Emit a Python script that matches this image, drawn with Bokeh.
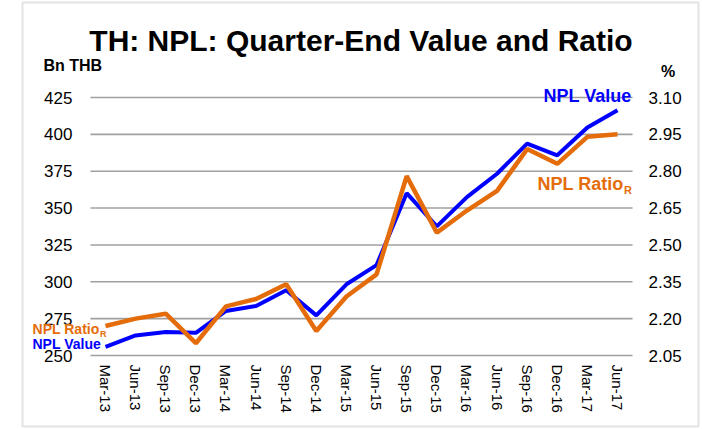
from bokeh.plotting import figure
from bokeh.models import (Range1d, LinearAxis, FixedTicker, Label, BoxAnnotation,
                          NumeralTickFormatter)
from bokeh.embed import file_html
from bokeh.resources import INLINE

quarters = ["Mar-13", "Jun-13", "Sep-13", "Dec-13", "Mar-14", "Jun-14", "Sep-14", "Dec-14",
            "Mar-15", "Jun-15", "Sep-15", "Dec-15", "Mar-16", "Jun-16", "Sep-16", "Dec-16",
            "Mar-17", "Jun-17"]
npl_value = [255.9, 263.6, 266.0, 265.4, 280.2, 283.6, 294.3, 277.2, 298.3, 311.3,
             360.1, 337.6, 357.4, 373.3, 393.7, 385.8, 404.6, 416.4]
npl_ratio = [2.17, 2.20, 2.22, 2.10, 2.25, 2.28, 2.34, 2.15, 2.29, 2.38,
             2.78, 2.55, 2.64, 2.72, 2.89, 2.83, 2.94, 2.95]
left_ticks = [250, 275, 300, 325, 350, 375, 400, 425]
right_ticks = [2.05, 2.20, 2.35, 2.50, 2.65, 2.80, 2.95, 3.10]

FONT = "Liberation Sans"
BLUE = "#0000FF"
ORANGE = "#E46C0A"
GRID = "#A0A0A0"

W, H = 702, 429
# layout of the plotting area in canvas pixels
X_FIRST, X_LAST = 105.0, 617.0          # centres of first / last category
Y_BOT, Y_TOP = 355.0, 97.0              # pixel rows of the lowest / highest left tick
n = len(quarters)
dx = (X_LAST - X_FIRST) / (n - 1)
lo, hi = left_ticks[0], left_ticks[-1]
k = (Y_BOT - Y_TOP) / (hi - lo)         # px per left-axis unit
y0 = lo - (H - Y_BOT) / k
y1 = hi + Y_TOP / k
rlo, rhi = right_ticks[0], right_ticks[-1]
rs = (rhi - rlo) / (hi - lo)
x_idx = list(range(n))

p = figure(width=W, height=H,
           x_range=Range1d(-X_FIRST / dx, (W - X_FIRST) / dx),
           y_range=Range1d(y0, y1),
           output_backend="svg", toolbar_location=None,
           min_border=0, min_border_left=0, min_border_right=0,
           min_border_top=0, min_border_bottom=0)
p.extra_y_ranges = {"ratio": Range1d(rlo + (y0 - lo) * rs, rlo + (y1 - lo) * rs)}
p.outline_line_color = None
p.background_fill_color = "white"
p.border_fill_color = "white"
p.xgrid.grid_line_color = None
p.ygrid.grid_line_color = None


def style_axis(ax, standoff, size):
    ax.axis_line_color = None
    ax.major_tick_line_color = None
    ax.minor_tick_line_color = None
    ax.major_tick_out = 0
    ax.major_tick_in = 0
    ax.major_label_standoff = standoff
    ax.major_label_text_font = FONT
    ax.major_label_text_font_size = size
    ax.major_label_text_color = "black"


la = p.yaxis[0]
la.ticker = FixedTicker(ticks=left_ticks)
la.fixed_location = -0.5
style_axis(la, 18, "17px")

ra = LinearAxis(y_range_name="ratio", ticker=FixedTicker(ticks=right_ticks),
                formatter=NumeralTickFormatter(format="0.00"))
ra.fixed_location = n - 0.5
style_axis(ra, 16, "17px")
p.add_layout(ra, "right")

xa = p.xaxis[0]
xa.ticker = FixedTicker(ticks=x_idx)
xa.major_label_overrides = {i: q for i, q in zip(x_idx, quarters)}
xa.fixed_location = lo
xa.major_label_orientation = "vertical"
style_axis(xa, 9, "15px")

# horizontal gridlines at the left-axis ticks, spanning the category area only
p.segment(x0=[-0.5] * len(left_ticks), x1=[n - 0.5] * len(left_ticks),
          y0=left_ticks, y1=left_ticks, line_color=GRID, line_width=1.6)

p.line(x_idx, npl_value, line_color=BLUE, line_width=4)
p.line(x_idx, npl_ratio, line_color=ORANGE, line_width=4.5, y_range_name="ratio")


def lab(text, x, y, size, color="black", align="left", baseline="middle", bold=True):
    p.add_layout(Label(x=x, y=y, x_units="canvas", y_units="canvas", text=text,
                       text_font=FONT, text_font_size=size, text_color=color,
                       text_font_style="bold" if bold else "normal",
                       text_align=align, text_baseline=baseline))

lab("TH: NPL: Quarter-End Value and Ratio", 360.5, 40, "30px", align="center", baseline="alphabetic")
lab("Bn THB", 43, 65, "16px")
lab("%", 667.5, 71, "16px", align="center")
lab("NPL Value", 631, 95.5, "18px", color=BLUE, align="right")
lab("NPL Ratio", 623, 183.5, "18px", color=ORANGE, align="right")
lab("R", 623.5, 189.5, "11px", color=ORANGE)
lab("NPL Ratio", 99, 328.5, "14px", color=ORANGE, align="right")
lab("R", 99.5, 333.5, "9px", color=ORANGE)
lab("NPL Value", 32, 343.5, "14px", color=BLUE)

p.add_layout(BoxAnnotation(left=22, right=698, top=2, bottom=426,
                           left_units="canvas", right_units="canvas",
                           top_units="canvas", bottom_units="canvas",
                           fill_alpha=0, line_color="#A0A0A0", line_width=2))

open("out.html", "w").write(file_html(p, INLINE))
